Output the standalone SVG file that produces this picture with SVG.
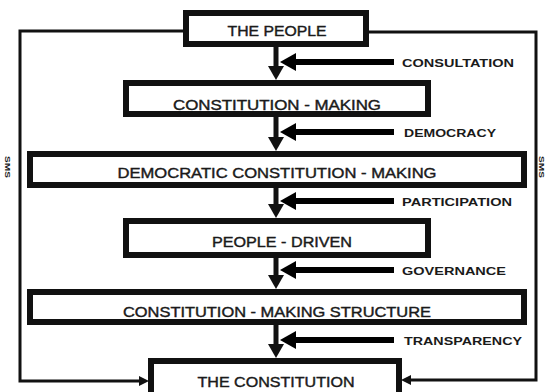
<svg xmlns="http://www.w3.org/2000/svg" width="548" height="392" viewBox="0 0 548 392">
<defs>
<style>
.box{fill:#fff;stroke:#111;stroke-width:6}
.t{font-family:"Liberation Sans",Arial,sans-serif;font-size:14px;fill:#1a1a1a;stroke:#1a1a1a;stroke-width:0.4;text-anchor:middle}
.l{font-family:"Liberation Sans",Arial,sans-serif;font-size:11px;font-weight:bold;fill:#1a1a1a}
.s{font-family:"Liberation Sans",Arial,sans-serif;font-size:7px;font-weight:bold;fill:#1a1a1a}
.v{stroke:#111;stroke-width:5;fill:none}
.h{stroke:#000;stroke-width:6;fill:none}
.loop{stroke:#111;stroke-width:3;fill:none}
</style>
</defs>
<g id="connectors">
<path class="loop" d="M183,31 H20 V381 H140"/>
<path d="M149,381 L139,376 L139,386 Z" fill="#111"/>
<path class="loop" d="M369,32 H536 V380 H410"/>
<path d="M401,380 L411,375 L411,385 Z" fill="#111"/>
<g class="v">
<path d="M276,47 V68"/><path d="M276,117 V139"/><path d="M276,188 V206"/><path d="M276,258 V277"/><path d="M276,325 V346"/>
</g>
<g fill="#111">
<path d="M268,66 L284,66 L276,80 Z"/>
<path d="M268,137 L284,137 L276,151 Z"/>
<path d="M268,204 L284,204 L276,218 Z"/>
<path d="M268,275 L284,275 L276,289 Z"/>
<path d="M268,344 L284,344 L276,358 Z"/>
</g>
<g class="h">
<path d="M394,62 H292"/><path d="M394,132 H292"/><path d="M394,201 H292"/><path d="M394,270 H292"/><path d="M394,340 H292"/>
</g>
<g fill="#000">
<path d="M280,62 L296,53 L296,71 Z"/>
<path d="M280,132 L296,123 L296,141 Z"/>
<path d="M280,201 L296,192 L296,210 Z"/>
<path d="M280,270 L296,261 L296,279 Z"/>
<path d="M280,340 L296,331 L296,349 Z"/>
</g>
</g>
<g id="n1"><rect class="box" x="186" y="13" width="180" height="31"/><text class="t" x="277" y="36" textLength="99" lengthAdjust="spacingAndGlyphs">THE PEOPLE</text></g>
<g id="n2"><rect class="box" x="126" y="83" width="302" height="31"/><text class="t" x="277" y="110" textLength="208" lengthAdjust="spacingAndGlyphs">CONSTITUTION - MAKING</text></g>
<g id="n3"><rect class="box" x="30" y="154" width="494" height="31"/><text class="t" x="277" y="178" textLength="319" lengthAdjust="spacingAndGlyphs">DEMOCRATIC CONSTITUTION - MAKING</text></g>
<g id="n4"><rect class="box" x="126" y="221" width="302" height="34"/><text class="t" x="282" y="247" textLength="140" lengthAdjust="spacingAndGlyphs">PEOPLE - DRIVEN</text></g>
<g id="n5"><rect class="box" x="30" y="292" width="494" height="30"/><text class="t" x="277" y="317" textLength="308" lengthAdjust="spacingAndGlyphs">CONSTITUTION - MAKING STRUCTURE</text></g>
<g id="n6"><rect class="box" x="151" y="361" width="248" height="40"/><text class="t" x="276" y="387" textLength="157" lengthAdjust="spacingAndGlyphs">THE CONSTITUTION</text></g>
<g id="labels">
<text class="l" x="402" y="67" textLength="112" lengthAdjust="spacingAndGlyphs">CONSULTATION</text>
<text class="l" x="404" y="137" textLength="92" lengthAdjust="spacingAndGlyphs">DEMOCRACY</text>
<text class="l" x="402" y="206" textLength="110" lengthAdjust="spacingAndGlyphs">PARTICIPATION</text>
<text class="l" x="402" y="275" textLength="104" lengthAdjust="spacingAndGlyphs">GOVERNANCE</text>
<text class="l" x="404" y="345" textLength="118" lengthAdjust="spacingAndGlyphs">TRANSPARENCY</text>
<text class="s" transform="translate(5,156) rotate(90)" textLength="22" lengthAdjust="spacingAndGlyphs">SMS</text>
<text class="s" transform="translate(539,156) rotate(90)" textLength="22" lengthAdjust="spacingAndGlyphs">SMS</text>
</g>
</svg>
